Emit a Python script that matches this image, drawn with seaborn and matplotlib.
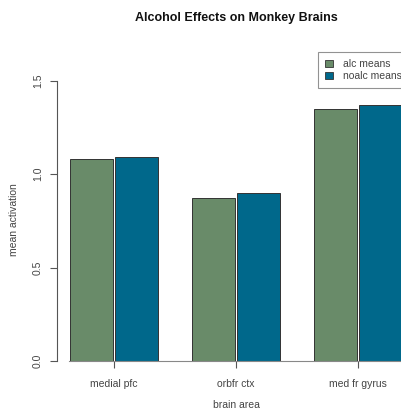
import matplotlib
matplotlib.use("Agg")
import matplotlib.pyplot as plt
import seaborn as sns
import pandas as pd
from matplotlib.patches import Patch

areas = ["medial pfc", "orbfr ctx", "med fr gyrus"]
alc_means = [1.08, 0.87, 1.35]
noalc_means = [1.09, 0.90, 1.37]
series = ["alc.means", "noalc.means"]
legend_labels = ["alc means", "noalc means"]
colors = ["#698B69", "#00688B"]
yticks = [0.0, 0.5, 1.0, 1.5]

df = pd.DataFrame({
    "area": areas * 2,
    "value": alc_means + noalc_means,
    "series": [series[0]] * 3 + [series[1]] * 3,
})

sns.set_style("white")
plt.rcParams["font.family"] = ["Liberation Sans", "DejaVu Sans"]

W, H = 401, 411
fig = plt.figure(figsize=(W / 100, H / 100), dpi=100)
ax = fig.add_axes([57 / W, (H - 361) / H, 1 - 57 / W, (361 - 45) / H])

sns.barplot(data=df, x="area", y="value", hue="series", palette=colors,
            width=0.74, gap=0.06, edgecolor="#333333", linewidth=0.7,
            ax=ax, legend=False, saturation=1)

ax.set_xlim(-0.467, 2.353)
ax.set_ylim(0, (361 - 45) / 187)

for s in ["top", "right"]:
    ax.spines[s].set_visible(False)
ax.spines["left"].set_bounds(0, 1.5)
ax.spines["left"].set_color("#555555")
ax.spines["left"].set_linewidth(0.8)
ax.spines["bottom"].set_bounds(-0.37, 2.37)
ax.spines["bottom"].set_color("#888888")
ax.spines["bottom"].set_linewidth(0.8)

ax.set_yticks(yticks)
ax.set_yticklabels([f"{v:.1f}" for v in yticks], rotation=90, va="center",
                   fontsize=7.5, color="#444444")
ax.set_xticks(range(len(areas)))
ax.set_xticklabels(areas, fontsize=7.5, color="#444444")
ax.tick_params(axis="both", which="both", length=5, width=0.8, color="#555555",
               direction="out", left=True, bottom=True)
ax.tick_params(axis="y", pad=5)
ax.tick_params(axis="x", pad=8)
ax.set_xlabel("")
ax.set_ylabel("")

fig.text(14 / W, 1 - 220 / H, "mean activation", rotation=90, ha="center",
         va="center", fontsize=7.5, color="#444444")
fig.text(236 / W, 1 - 405 / H, "brain area", ha="center", va="center",
         fontsize=7.5, color="#444444")
fig.text(236 / W, 1 - 18 / H, "Alcohol Effects on Monkey Brains", ha="center",
         va="center", fontsize=9, fontweight="bold", color="#111111")

handles = [Patch(facecolor=c, edgecolor="#333333", linewidth=0.6) for c in colors]
leg = ax.legend(handles, legend_labels, loc="upper left",
                bbox_to_anchor=(318 / W, 1 - 52 / H), bbox_transform=fig.transFigure,
                frameon=True, fancybox=False, fontsize=7.5, handlelength=0.7,
                handleheight=0.7, handletextpad=1.0, borderpad=0.7,
                labelspacing=0.15, borderaxespad=0)
leg.get_frame().set_edgecolor("#777777")
leg.get_frame().set_linewidth(0.8)
for t in leg.get_texts():
    t.set_color("#444444")

fig.savefig("out.png", dpi=100)
